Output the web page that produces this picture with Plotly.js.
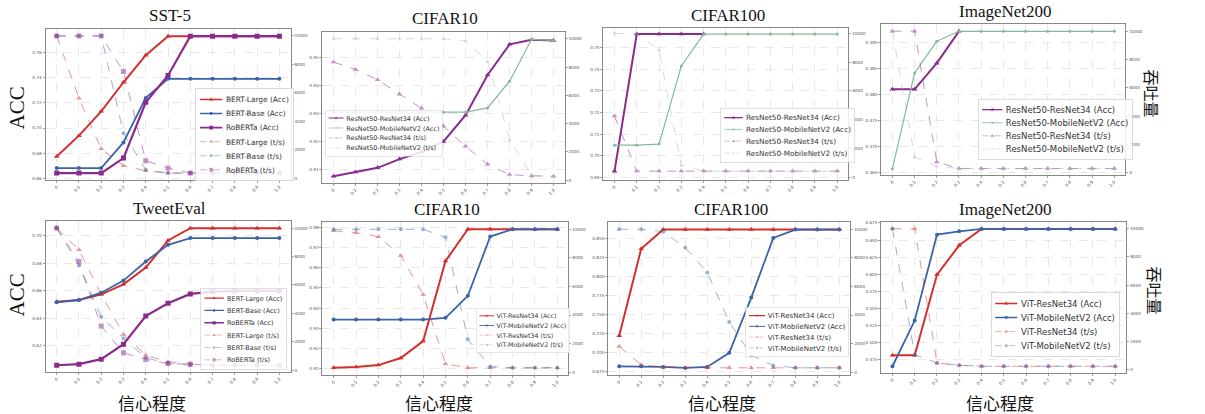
<!DOCTYPE html>
<html><head><meta charset="utf-8">
<script src="https://cdn.plot.ly/plotly-3.0.1.min.js"></script>
<style>html,body{margin:0;padding:0;background:#fff;} #chart{width:1205px;height:414px;}</style>
</head><body><div id="chart"></div>
<script>
// ---------------- data ----------------
const X = [0, 0.1, 0.2, 0.3, 0.4, 0.5, 0.6, 0.7, 0.8, 0.9, 1.0];
const xTickText = ['0', '0.1', '0.2', '0.3', '0.4', '0.5', '0.6', '0.7', '0.8', '0.9', '1.0'];
const panelTitles = ['SST-5', 'CIFAR10', 'CIFAR100', 'ImageNet200', 'TweetEval', 'CIFAR10', 'CIFAR100', 'ImageNet200'];

// SST-5
const sst5BertLargeAcc = [0.6773, 0.6939, 0.7133, 0.7365, 0.7581, 0.7733, 0.7733, 0.7733, 0.7733, 0.7733, 0.7733];
const sst5BertBaseAcc  = [0.6680, 0.6680, 0.6680, 0.6885, 0.7240, 0.7392, 0.7392, 0.7392, 0.7392, 0.7392, 0.7392];
const sst5RobertaAcc   = [0.6640, 0.6640, 0.6640, 0.6760, 0.7205, 0.7419, 0.7733, 0.7733, 0.7733, 0.7733, 0.7733];
const sst5BertLargeTs  = [10000, 5620, 2061, 866, 515, 351, 351, 351, 351, 351, 351];
const sst5BertBaseTs   = [10000, 10000, 10000, 3160, 585, 351, 351, 351, 351, 351, 351];
const sst5RobertaTs    = [10000, 10000, 10000, 7494, 1218, 703, 351, 351, 351, 351, 351];

// CIFAR10 (ResNet)
const c10rR34Acc = [0.9077, 0.9092, 0.9107, 0.9138, 0.9163, 0.9201, 0.9294, 0.9437, 0.9546, 0.9562, 0.9560];
const c10rMv2Acc = [0.9305, 0.9305, 0.9305, 0.9305, 0.9305, 0.9305, 0.9305, 0.9320, 0.9415, 0.9564, 0.9560];
const c10rR34Ts  = [8353, 7835, 7106, 6071, 5082, 3812, 2400, 1129, 400, 306, 282];
const c10rMv2Ts  = [10000, 10000, 10000, 10000, 10000, 10000, 9835, 8400, 2870, 353, 282];

// CIFAR100 (ResNet) — the ResNet34 accuracy curve is only visible up to 0.4
const c100rR34Acc = [0.6928, 0.7562, 0.7562, 0.7562, 0.7562, null, null, null, null, null, null];
const c100rMv2Acc = [0.7049, 0.7049, 0.7054, 0.7415, 0.7562, 0.7562, 0.7562, 0.7562, 0.7562, 0.7562, 0.7562];
const c100rR34Ts  = [4256, 419, 419, 419, 419, 419, 419, 419, 419, 419, 419];
const c100rMv2Ts  = [10000, 10000, 8837, 814, 419, 419, 419, 419, 419, 419, 419];

// ImageNet200 (ResNet) — the ResNet34 accuracy curve is only visible up to 0.3
const in200rR34Acc = [0.4810, 0.4810, 0.4860, 0.4921, null, null, null, null, null, null, null];
const in200rMv2Acc = [0.4658, 0.4841, 0.4902, 0.4921, 0.4921, 0.4921, 0.4921, 0.4921, 0.4921, 0.4921, 0.4921];
const in200rR34Ts  = [10000, 10000, 776, 306, 306, 306, 306, 306, 306, 306, 306];
const in200rMv2Ts  = [10000, 1129, 470, 306, 306, 306, 306, 306, 306, 306, 306];

// TweetEval
const twBertLargeAcc = [0.6520, 0.6532, 0.6573, 0.6646, 0.6767, 0.6964, 0.7053, 0.7053, 0.7053, 0.7053, 0.7053];
const twBertBaseAcc  = [0.6515, 0.6532, 0.6585, 0.6673, 0.6811, 0.6932, 0.6981, 0.6981, 0.6981, 0.6981, 0.6981];
const twRobertaAcc   = [0.6059, 0.6067, 0.6103, 0.6212, 0.6416, 0.6508, 0.6576, 0.6593, 0.6598, 0.6598, 0.6598];
const twBertLargeTs  = [10000, 8471, 5341, 2518, 1059, 588, 471, 353, 353, 353, 353];
const twBertBaseTs   = [10000, 7365, 3765, 2235, 871, 471, 353, 353, 353, 353, 353];
const twRobertaTs    = [10000, 7647, 3106, 1224, 753, 471, 424, 353, 353, 353, 353];

// CIFAR10 (ViT)
const c10vR34Acc = [0.9105, 0.9108, 0.9118, 0.9153, 0.9237, 0.9633, 0.9790, 0.9790, 0.9790, 0.9790, 0.9790];
const c10vMv2Acc = [0.9343, 0.9343, 0.9343, 0.9343, 0.9343, 0.9352, 0.9461, 0.9754, 0.9790, 0.9790, 0.9790];
const c10vR34Ts  = [9900, 9766, 9485, 8150, 5433, 585, 304, 304, 304, 304, 304];
const c10vMv2Ts  = [10000, 10000, 10000, 10000, 10000, 9438, 2295, 398, 304, 304, 304];

// CIFAR100 (ViT)
const c100vR34Acc = [0.7223, 0.8361, 0.8611, 0.8611, 0.8611, 0.8611, 0.8611, 0.8611, 0.8611, 0.8611, 0.8611];
const c100vMv2Acc = [0.6824, 0.6824, 0.6816, 0.6803, 0.6816, 0.7000, 0.7722, 0.8501, 0.8611, 0.8611, 0.8611];
const c100vR34Ts  = [1803, 515, 351, 304, 304, 304, 304, 304, 304, 304, 304];
const c100vMv2Ts  = [10000, 10000, 9836, 8712, 6979, 3513, 1171, 468, 304, 304, 304];

// ImageNet200 (ViT)
const in200vR34Acc = [0.4813, 0.4813, 0.5994, 0.6423, 0.6662, 0.6662, 0.6662, 0.6662, 0.6662, 0.6662, 0.6662];
const in200vMv2Acc = [0.4652, 0.5321, 0.6579, 0.6628, 0.6662, 0.6662, 0.6662, 0.6662, 0.6662, 0.6662, 0.6662];
const in200vR34Ts  = [10000, 10000, 470, 306, 235, 235, 235, 235, 235, 235, 235];
const in200vMv2Ts  = [10000, 1059, 470, 306, 235, 235, 235, 235, 235, 235, 235];

// ---------------- styles / layout config ----------------
const W = 1205, H = 414;
const RED = '#d42f2f', BLUE = '#3a64a8', PURPLE = '#8a2a8c', GREEN = '#86b89c';

const S = {
  redAcc:   {color: RED, symbol: 'triangle-up', width: 2, size: 5, dash: 'solid', opacity: 1},
  blueAcc:  {color: BLUE, symbol: 'circle', width: 1.8, size: 4, dash: 'solid', opacity: 1},
  purAcc:   {color: PURPLE, symbol: 'square', width: 2.2, size: 5, dash: 'solid', opacity: 1},
  purAccT:  {color: PURPLE, symbol: 'triangle-up', width: 2, size: 5, dash: 'solid', opacity: 1},
  grnAcc:   {color: GREEN, symbol: 'circle', width: 1.2, size: 3, dash: 'solid', opacity: 1},
  redTs:    {color: RED, symbol: 'triangle-up', width: 1, size: 5, dash: 'dash', opacity: 0.5},
  blueTs:   {color: BLUE, symbol: 'circle', width: 1, size: 4, dash: 'dash', opacity: 0.5},
  purTs:    {color: PURPLE, symbol: 'square', width: 1, size: 5, dash: 'dash', opacity: 0.5},
  purTsT:   {color: PURPLE, symbol: 'triangle-up', width: 1, size: 5, dash: 'dash', opacity: 0.5},
  grnTs:    {color: '#9fb8a8', symbol: 'circle', width: 1, size: 3, dash: 'dash', opacity: 0.45}
};

const panels = [
  {box: [47, 29, 300, 180], yr: [0.6585, 0.7790], t0: 0.66, dt: 0.02, fmt: '.2f', y2r: [-135, 10485],
   leg: {x: 202, y: 88, size: 10, scale: 0.74},
   series: [['BERT-Large (Acc)', sst5BertLargeAcc, S.redAcc, 0], ['BERT-Base (Acc)', sst5BertBaseAcc, S.blueAcc, 0],
            ['RoBERTa (Acc)', sst5RobertaAcc, S.purAcc, 0], ['BERT-Large (t/s)', sst5BertLargeTs, S.redTs, 1],
            ['BERT-Base (t/s)', sst5BertBaseTs, S.blueTs, 1], ['RoBERTa (t/s)', sst5RobertaTs, S.purTs, 1]]},
  {box: [333, 32, 583, 183], yr: [0.9053, 0.9590], t0: 0.91, dt: 0.01, fmt: '.2f', y2r: [-195, 10480],
   leg: {x: 336, y: 110, size: 12.7, scale: 0.51},
   series: [['ResNet50-ResNet34 (Acc)', c10rR34Acc, S.purAccT, 0], ['ResNet50-MobileNetV2 (Acc)', c10rMv2Acc, S.grnAcc, 0],
            ['ResNet50-ResNet34 (t/s)', c10rR34Ts, S.purTsT, 1], ['ResNet50-MobileNetV2 (t/s)', c10rMv2Ts, S.grnTs, 1]]},
  {box: [623, 28, 876, 180], yr: [0.6888, 0.7590], t0: 0.69, dt: 0.01, fmt: '.2f', y2r: [-200, 10380],
   leg: {x: 744, y: 108, size: 11.8, scale: 0.62},
   series: [['ResNet50-ResNet34 (Acc)', c100rR34Acc, S.purAccT, 0], ['ResNet50-MobileNetV2 (Acc)', c100rMv2Acc, S.grnAcc, 0],
            ['ResNet50-ResNet34 (t/s)', c100rR34Ts, S.purTsT, 1], ['ResNet50-MobileNetV2 (t/s)', c100rMv2Ts, S.grnTs, 1]]},
  {box: [910, 24, 1162, 175], yr: [0.4646, 0.4935], t0: 0.465, dt: 0.005, fmt: '.3f', y2r: [-150, 10510],
   leg: {x: 1010, y: 99, size: 12.5, scale: 0.68},
   series: [['ResNet50-ResNet34 (Acc)', in200rR34Acc, S.purAccT, 0], ['ResNet50-MobileNetV2 (Acc)', in200rMv2Acc, S.grnAcc, 0],
            ['ResNet50-ResNet34 (t/s)', in200rR34Ts, S.purTsT, 1], ['ResNet50-MobileNetV2 (t/s)', in200rMv2Ts, S.grnTs, 1]]},
  {box: [47, 221, 300, 372], yr: [0.6010, 0.7105], t0: 0.62, dt: 0.02, fmt: '.2f', y2r: [-125, 10500],
   leg: {x: 207, y: 288, size: 10, scale: 0.65},
   series: [['BERT-Large (Acc)', twBertLargeAcc, S.redAcc, 0], ['BERT-Base (Acc)', twBertBaseAcc, S.blueAcc, 0],
            ['RoBERTa (Acc)', twRobertaAcc, S.purAcc, 0], ['BERT-Large (t/s)', twBertLargeTs, S.redTs, 1],
            ['BERT-Base (t/s)', twBertBaseTs, S.blueTs, 1], ['RoBERTa (t/s)', twRobertaTs, S.purTs, 1]]},
  {box: [333, 222, 587, 375], yr: [0.9069, 0.9826], t0: 0.91, dt: 0.01, fmt: '.2f', y2r: [-200, 10510],
   leg: {x: 492, y: 308, size: 12.9, scale: 0.49},
   series: [['ViT-ResNet34 (Acc)', c10vR34Acc, S.redAcc, 0], ['ViT-MobileNetV2 (Acc)', c10vMv2Acc, S.blueAcc, 0],
            ['ViT-ResNet34 (t/s)', c10vR34Ts, S.redTs, 1], ['ViT-MobileNetV2 (t/s)', c10vMv2Ts, S.blueTs, 1]]},
  {box: [628, 222, 878, 375], yr: [0.6710, 0.8710], t0: 0.675, dt: 0.025, fmt: '.3f', y2r: [-200, 10510],
   leg: {x: 770, y: 307, size: 13, scale: 0.54},
   series: [['ViT-ResNet34 (Acc)', c100vR34Acc, S.redAcc, 0], ['ViT-MobileNetV2 (Acc)', c100vMv2Acc, S.blueAcc, 0],
            ['ViT-ResNet34 (t/s)', c100vR34Ts, S.redTs, 1], ['ViT-MobileNetV2 (t/s)', c100vMv2Ts, S.blueTs, 1]]},
  {box: [910, 222, 1163, 373], yr: [0.4553, 0.6764], t0: 0.475, dt: 0.025, fmt: '.3f', y2r: [-245, 10480],
   leg: {x: 1023, y: 292, size: 11.5, scale: 0.74},
   series: [['ViT-ResNet34 (Acc)', in200vR34Acc, S.redAcc, 0], ['ViT-MobileNetV2 (Acc)', in200vMv2Acc, S.blueAcc, 0],
            ['ViT-ResNet34 (t/s)', in200vR34Ts, S.redTs, 1], ['ViT-MobileNetV2 (t/s)', in200vMv2Ts, S.blueTs, 1]]}
];

const TICKFONT = {family: 'DejaVu Sans', size: 4.2, color: '#555'};
const data = [];
const layout = {
  width: W, height: H, margin: {l: 0, r: 0, t: 0, b: 0},
  paper_bgcolor: '#ffffff', plot_bgcolor: '#ffffff', showlegend: true,
  annotations: []
};

panels.forEach((p, i) => {
  const k = i + 1;
  const xa = k === 1 ? 'x' : 'x' + k;
  const yl = (2 * k - 1) === 1 ? 'y' : 'y' + (2 * k - 1);
  const yr = 'y' + (2 * k);
  const legId = k === 1 ? 'legend' : 'legend' + k;
  const [x0, y0, x1, y1] = p.box;

  layout['xaxis' + (k === 1 ? '' : k)] = {
    domain: [x0 / W, x1 / W], anchor: yl, range: [-0.05, 1.05],
    tickvals: X, ticktext: xTickText, tickangle: -45, tickfont: TICKFONT,
    ticks: 'outside', ticklen: 2, tickcolor: '#888', tickwidth: 0.8,
    showline: true, mirror: true, linecolor: '#888', linewidth: 1,
    showgrid: true, gridcolor: '#e4e4e4', griddash: 'dash', gridwidth: 0.8,
    zeroline: false, automargin: false, fixedrange: true
  };
  layout['yaxis' + ((2 * k - 1) === 1 ? '' : (2 * k - 1))] = {
    domain: [1 - y1 / H, 1 - y0 / H], anchor: xa, range: p.yr,
    tick0: p.t0, dtick: p.dt, tickformat: p.fmt, tickfont: TICKFONT,
    ticks: 'outside', ticklen: 2, tickcolor: '#888', tickwidth: 0.8,
    showline: true, mirror: true, linecolor: '#888', linewidth: 1,
    showgrid: true, gridcolor: '#e4e4e4', griddash: 'dash', gridwidth: 0.8,
    zeroline: false, automargin: false, fixedrange: true
  };
  layout['yaxis' + (2 * k)] = {
    overlaying: yl, side: 'right', anchor: xa, range: p.y2r,
    tick0: 0, dtick: 2000, tickformat: 'd', tickfont: TICKFONT,
    ticks: 'outside', ticklen: 2, tickcolor: '#888', tickwidth: 0.8,
    showline: false, showgrid: false, zeroline: false, automargin: false, fixedrange: true
  };
  layout[legId] = {
    x: p.leg.x / W, y: 1 - p.leg.y / H, xanchor: 'left', yanchor: 'top',
    bgcolor: 'rgba(255,255,255,0.85)', bordercolor: '#cccccc', borderwidth: 1,
    font: {family: 'DejaVu Sans', size: p.leg.size, color: '#333'},
    tracegroupgap: 0, itemwidth: 30, traceorder: 'normal'
  };

  p.series.forEach(([name, ys, st, right]) => {
    data.push({
      type: 'scatter', mode: 'lines+markers', name: name, x: X, y: ys,
      xaxis: xa, yaxis: right ? yr : yl, legend: legId, opacity: st.opacity,
      line: {color: st.color, width: st.width, dash: st.dash},
      marker: {color: st.color, symbol: st.symbol, size: st.size},
      hoverinfo: 'skip'
    });
  });

  // panel title
  layout.annotations.push({
    text: panelTitles[i], xref: 'paper', yref: 'paper',
    x: ((x0 + x1) / 2 + 2) / W, y: 1 - (y0 - 13) / H, xanchor: 'center', yanchor: 'middle',
    showarrow: false, font: {family: 'Liberation Serif', size: 17, color: '#111'}
  });
});

// axis titles
const titleTexts = {acc: 'ACC', tput: '吞吐量', conf: '信心程度'};
[108, 295].forEach(yy => layout.annotations.push({
  text: titleTexts.acc, xref: 'paper', yref: 'paper', x: 18 / W, y: 1 - yy / H,
  xanchor: 'center', yanchor: 'middle', textangle: -90, showarrow: false,
  font: {family: 'Liberation Serif', size: 21, color: '#111'}
}));
[[1190, 94], [1193, 291]].forEach(([xx, yy]) => layout.annotations.push({
  text: titleTexts.tput, xref: 'paper', yref: 'paper', x: xx / W, y: 1 - yy / H,
  xanchor: 'center', yanchor: 'middle', textangle: 90, showarrow: false,
  font: {family: 'Noto Sans CJK SC', size: 16, color: '#111'}
}));
[157, 453, 746, 1033].forEach(xx => layout.annotations.push({
  text: titleTexts.conf, xref: 'paper', yref: 'paper', x: xx / W, y: 1 - 402 / H,
  xanchor: 'center', yanchor: 'middle', showarrow: false,
  font: {family: 'Noto Sans CJK SC', size: 17, color: '#111'}
}));

Plotly.newPlot('chart', data, layout, {displayModeBar: false, staticPlot: true}).then(gd => {
  panels.forEach((p, i) => {
    const id = i === 0 ? 'legend' : 'legend' + (i + 1);
    const g = gd.querySelector('g.' + id);
    if (g) {
      const t = g.getAttribute('transform') || '';
      g.setAttribute('transform', t + ' scale(' + p.leg.scale + ')');
    }
  });
});
</script>
</body></html>
